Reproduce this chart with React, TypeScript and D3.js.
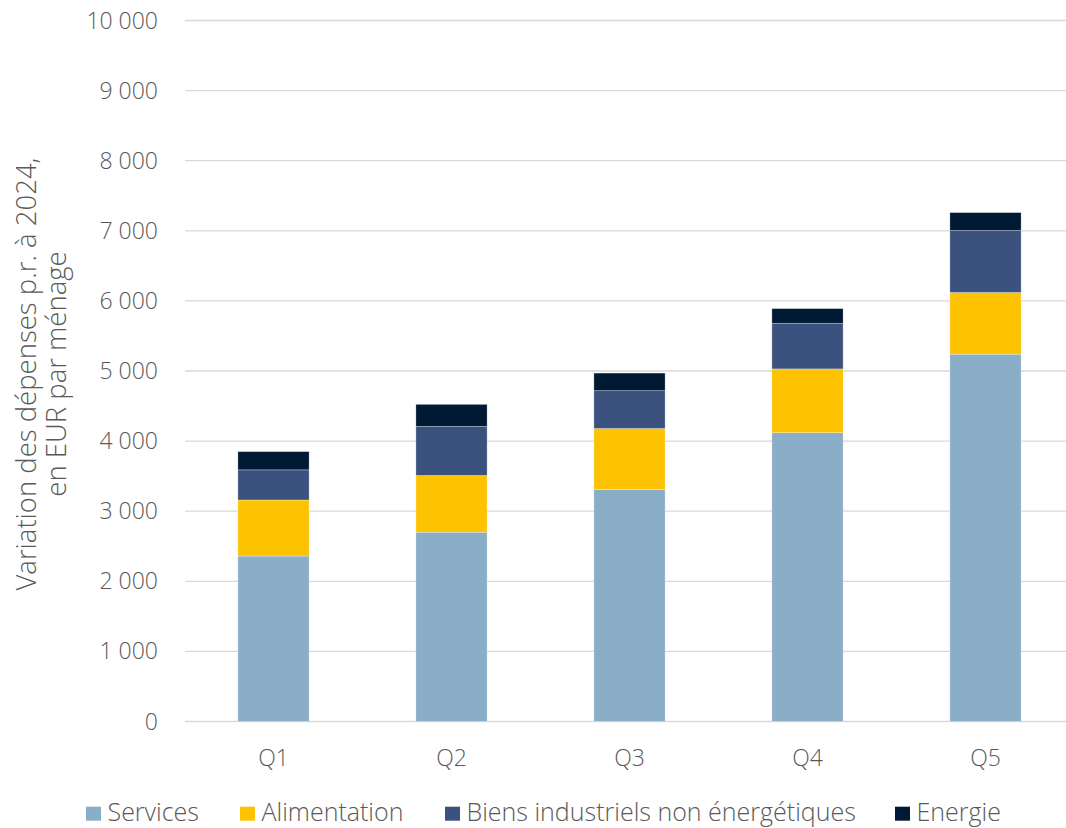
import React from "react";
import * as d3 from "d3";

const categories = ["Q1", "Q2", "Q3", "Q4", "Q5"];
const seriesNames = ["Services", "Alimentation", "Biens industriels non énergétiques", "Energie"];
const services = [2360, 2700, 3310, 4120, 5240];
const alimentation = [800, 810, 870, 910, 880];
const biens = [430, 700, 540, 650, 885];
const energie = [260, 314, 250, 210, 255];
const yTicks = [0, 1000, 2000, 3000, 4000, 5000, 6000, 7000, 8000, 9000, 10000];
const colors = ["#8aadc8", "#fdc300", "#3a527d", "#001a33"];

const W = 1066;
const H = 828;
const font = "'Open Sans', sans-serif";
const textColor = "#595959";
const weight = 300;

export default function App() {
  const x = d3.scaleBand<string>().domain(categories).range([184.5, 1074.5]).paddingInner(0.6).paddingOuter(0.3);
  const y = d3.scaleLinear().domain([0, 10000]).range([721.5, 20.5]);
  const rows = categories.map((c, i) => ({
    cat: c,
    s0: services[i],
    s1: alimentation[i],
    s2: biens[i],
    s3: energie[i],
  }));
  const stack = d3.stack<any>().keys(["s0", "s1", "s2", "s3"]);
  const layers = stack(rows);
  const fmt = (v: number) => d3.format(",")(v).replace(/,/g, " ");
  const legendX = [86, 240, 445, 895];

  return (
    <svg width={W} height={H} style={{ position: "absolute", left: 0, top: 0 }}>
      <rect width={W} height={H} fill="#ffffff" />
      {yTicks.map((t) => (
        <g key={t}>
          <line x1={185} x2={1066} y1={y(t)} y2={y(t)} stroke="#d9d9d9" strokeWidth={1.3} />
          <text x={158} y={y(t)} dy="0.35em" textAnchor="end" fontFamily={font} fontWeight={weight} fontSize={23} fill={textColor}>
            {fmt(t)}
          </text>
        </g>
      ))}
      {layers.map((layer, li) => (
        <g key={li}>
          {layer.map((d, i) => (
            <rect
              key={i}
              x={x(categories[i])!}
              width={x.bandwidth()}
              y={y(d[1])}
              height={y(d[0]) - y(d[1])}
              fill={colors[li]}
              stroke="#ffffff"
              strokeOpacity={0.35}
              strokeWidth={0.8}
            />
          ))}
        </g>
      ))}
      {categories.map((c) => (
        <text key={c} x={x(c)! + x.bandwidth() / 2} y={766} textAnchor="middle" fontFamily={font} fontWeight={weight} fontSize={23} fill={textColor}>
          {c}
        </text>
      ))}
      <text
        transform="translate(36,374) rotate(-90)"
        textAnchor="middle"
        fontFamily={font}
        fontWeight={weight}
        fontSize={27.5}
        fill={textColor}
      >
        <tspan x={0} dy={0}>Variation des dépenses p.r. à 2024,</tspan>
        <tspan x={0} dy={30}>en EUR par ménage</tspan>
      </text>
      {seriesNames.map((n, i) => (
        <g key={n}>
          <rect x={legendX[i]} y={806.7} width={15} height={14} fill={colors[i]} />
          <text x={legendX[i] + 21.5} y={821} fontFamily={font} fontWeight={weight} fontSize={25} fill={textColor}>
            {n}
          </text>
        </g>
      ))}
    </svg>
  );
}
